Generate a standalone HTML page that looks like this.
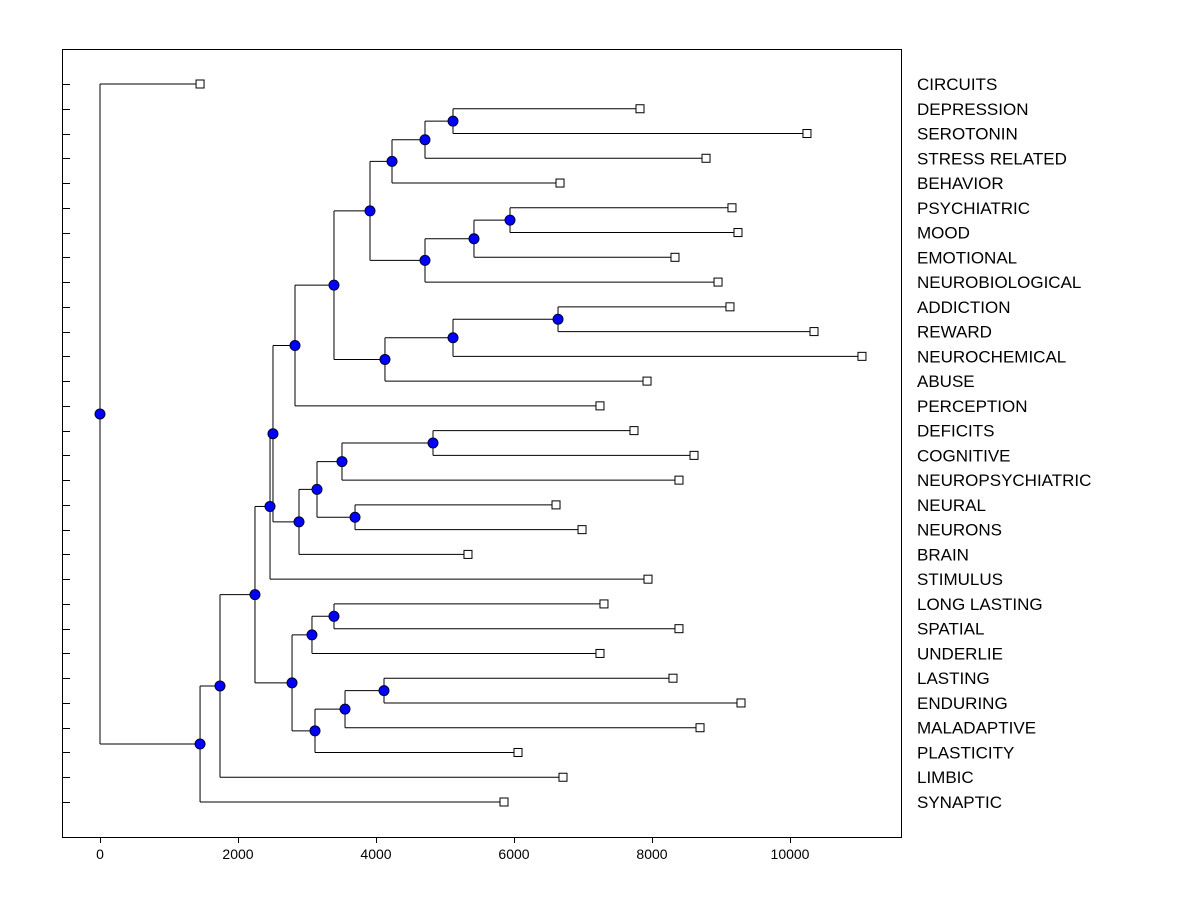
<!DOCTYPE html>
<html><head><meta charset="utf-8"><style>
html,body{margin:0;padding:0;background:#fff;}
svg text{font-family:"Liberation Sans",Arial,sans-serif;}
</style></head><body>
<svg id="chart" width="1200" height="900" xmlns="http://www.w3.org/2000/svg">
<rect x="62.5" y="49.5" width="839" height="788" fill="none" stroke="#000" stroke-width="1"/>
<g id="links"></g>
<g id="marks"></g>
<g id="axis"></g>
<g id="labels"></g>
</svg>
<script>
const labels = ["CIRCUITS","DEPRESSION","SEROTONIN","STRESS RELATED","BEHAVIOR","PSYCHIATRIC","MOOD","EMOTIONAL","NEUROBIOLOGICAL","ADDICTION","REWARD","NEUROCHEMICAL","ABUSE","PERCEPTION","DEFICITS","COGNITIVE","NEUROPSYCHIATRIC","NEURAL","NEURONS","BRAIN","STIMULUS","LONG LASTING","SPATIAL","UNDERLIE","LASTING","ENDURING","MALADAPTIVE","PLASTICITY","LIMBIC","SYNAPTIC"];
const leafValues = [1450,7826,10246,8783,6667,9159,9246,8333,8957,9130,10348,11043,7928,7246,7739,8609,8391,6609,6986,5333,7942,7304,8391,7246,8304,9290,8696,6058,6710,5855];
const merges = [[1,2,5116],[30,3,4710],[31,4,4232],[5,6,5942],[33,7,5420],[34,8,4710],[32,35,3913],[9,10,6638],[37,11,5116],[38,12,4130],[36,39,3391],[40,13,2826],[14,15,4826],[42,16,3507],[17,18,3696],[43,44,3145],[45,19,2884],[41,46,2507],[47,20,2464],[21,22,3391],[49,23,3072],[24,25,4116],[51,26,3551],[52,27,3116],[50,53,2783],[48,54,2246],[55,28,1739],[56,29,1450],[0,57,0]];
const xTicks = [0,2000,4000,6000,8000,10000];

const NS="http://www.w3.org/2000/svg";
const xs = v => 100 + v*0.069;
const ys = i => 84 + i*(802-84)/29;
function mk(tag, attrs, parent){const e=document.createElementNS(NS,tag);for(const k in attrs)e.setAttribute(k,attrs[k]);parent.appendChild(e);return e;}
const links=document.getElementById('links'), marks=document.getElementById('marks'), axis=document.getElementById('axis'), lab=document.getElementById('labels');
const N=labels.length;
const nodeY=[], nodeV=[];
for(let i=0;i<N;i++){nodeY[i]=ys(i);nodeV[i]=leafValues[i];}
merges.forEach((m,k)=>{const id=N+k;nodeY[id]=(nodeY[m[0]]+nodeY[m[1]])/2;nodeV[id]=m[2];});
merges.forEach((m,k)=>{
  const x=xs(m[2]);
  const v=mk('line',{x1:x,x2:x,y1:nodeY[m[0]],y2:nodeY[m[1]],stroke:'#000','stroke-width':1},links);
  
  
  [m[0],m[1]].forEach(c=>{
    const h=mk('line',{x1:x,x2:xs(nodeV[c]),y1:nodeY[c],y2:nodeY[c],stroke:'#000','stroke-width':1},links);
    
    
  });
});
merges.forEach((m,k)=>{
  const id=N+k;
  const c=mk('circle',{cx:xs(m[2]),cy:nodeY[id],r:5,fill:'#0000ff',stroke:'#000033','stroke-width':1},marks);
  
  
});
for(let i=0;i<N;i++){
  const r=mk('rect',{x:xs(leafValues[i])-4,y:ys(i)-4,width:8,height:8,fill:'#fff',stroke:'#000','stroke-width':1},marks);
  
  
  const t=mk('line',{x1:62,x2:70,y1:Math.round(ys(i))+0.5,y2:Math.round(ys(i))+0.5,stroke:'#000','stroke-width':1},axis);
  
  
  const tx=mk('text',{x:917,y:ys(i)+6,'font-size':17,fill:'#000'},lab);
  tx.textContent=labels[i];
  
  
}
xTicks.forEach(v=>{
  const l=mk('line',{x1:Math.round(xs(v))+0.5,x2:Math.round(xs(v))+0.5,y1:837,y2:843,stroke:'#000','stroke-width':1},axis);
  
  
  const t=mk('text',{x:xs(v),y:859,'font-size':14,'text-anchor':'middle',fill:'#000'},axis);
  t.textContent=v;
  
  
});
</script>
</body></html>
